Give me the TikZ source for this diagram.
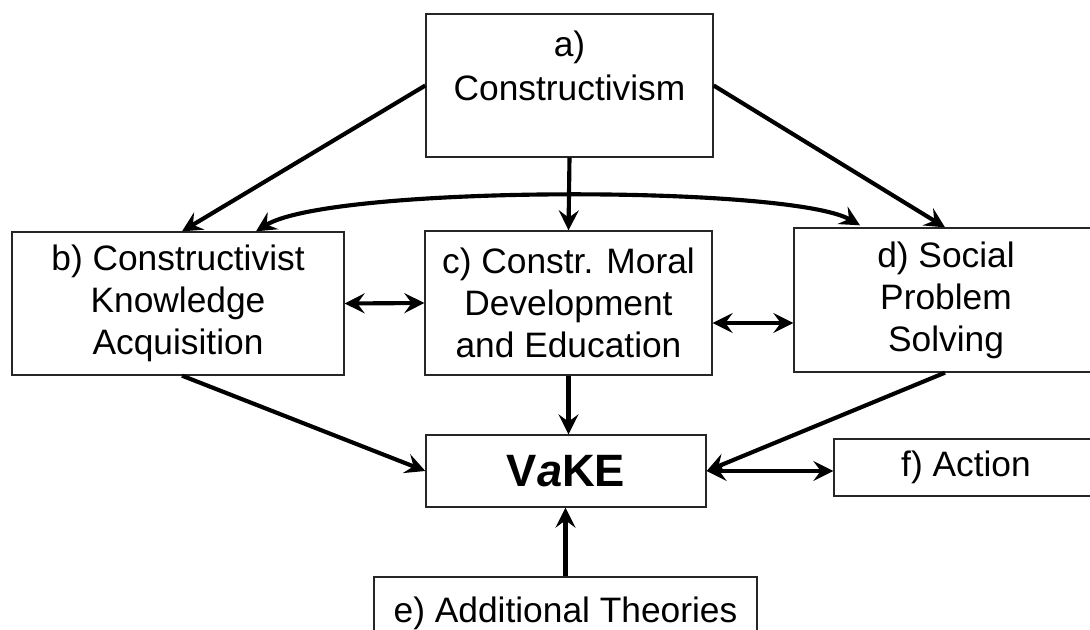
\documentclass[tikz,border=0pt]{standalone}
\usepackage{fontspec}
\setmainfont{Liberation Sans}
\usetikzlibrary{arrows.meta,calc}
\begin{document}
\begin{tikzpicture}[x=0.75pt,y=-0.75pt,
  box/.style={draw=black!85, line width=1pt, inner sep=0pt, align=center,
    font=\fontsize{26.5}{31.5}\selectfont},
  txt/.style={inner sep=0pt, align=center, font=\fontsize{26.5}{32.5}\selectfont},
  tip/.tip={Stealth[length=15pt,width=15pt,inset=5.5pt]},
  conn/.style={line width=3.1pt, -tip},
  both/.style={line width=3.1pt, tip-tip}]
\clip (0,0) rectangle (1090,630);
\fill[white] (0,0) rectangle (1090,630);

\node[box, minimum width=215.25pt, minimum height=107.25pt] (a) at (569.5,85.5) {};
\node[txt] (atext) at (569.5,66) {a)\\Constructivism};
\node[box, minimum width=249pt, minimum height=107.25pt] (b) at (178,303.5)
  {b) Constructivist\\Knowledge\\Acquisition};
\node[box, minimum width=215.25pt, minimum height=108pt] (c) at (568.5,303)
  {c) Constr. Moral\\Development\\and Education};
\node[box, minimum width=228pt, minimum height=108pt] (d) at (946,300)
  {d) Social\\Problem\\Solving};
\node[box, minimum width=210pt, minimum height=54pt,
  font=\fontsize{34}{36}\selectfont\bfseries] (v) at (566,471) {V\textit{a}KE};
\node[box, minimum width=198pt, minimum height=42.75pt] (f) at (966,467.5) {f) Action};
\node[box, minimum width=287.25pt, minimum height=54.75pt] (e) at (565.5,613.5)
  {e) Additional Theories};

\draw[conn] (a.west) -- ($(b.north)+(4,0)$);
\draw[conn] (a.east) -- ($(d.north)+(-1,0)$);
\draw[conn] (a.south) -- (c.north);
\draw[both] ($(b.north)+(78,0)$) .. controls (330,185) and (790,185) .. ($(d.north)+(-86,-2)$);
\draw[both] (b.east) -- (c.west);
\draw[both] ($(c.east)+(0,20)$) -- ($(d.west)+(0,23)$);
\draw[conn] ($(b.south)+(4,0)$) -- (v.west);
\draw[conn] (c.south) -- (c.south |- v.north);
\draw[conn] ($(d.south)+(-1,0)$) -- (v.east);
\draw[both] (v.east) -- (f.west |- v.east);
\draw[conn] (e.north) -- (e.north |- v.south);
\end{tikzpicture}
\end{document}
